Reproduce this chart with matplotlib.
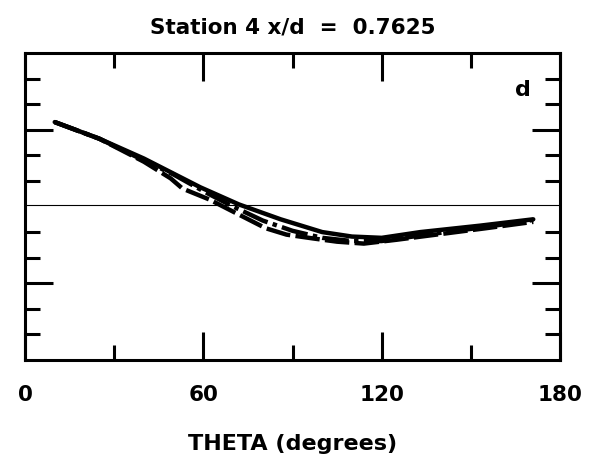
import numpy as np
import matplotlib
matplotlib.use("Agg")
import matplotlib.pyplot as plt
from matplotlib.ticker import FixedLocator

theta_solid = [10, 25, 40, 59, 72, 86, 100, 110, 120, 133, 153, 171]
val_solid = [0.66, 0.53, 0.375, 0.15, 0.016, -0.10, -0.20, -0.235, -0.245, -0.20, -0.15, -0.10]

theta_dash = [10, 25, 40, 49, 53, 62, 70, 81, 88, 97, 105, 114, 125, 140, 155, 171]
val_dash = [0.66, 0.53, 0.35, 0.22, 0.14, 0.055, -0.04, -0.17, -0.22, -0.25, -0.275, -0.29, -0.26, -0.215, -0.17, -0.12]

theta_dashdot = [10, 25, 40, 50, 60, 70, 80, 90, 100, 110, 120, 135, 155, 171]
val_dashdot = [0.66, 0.53, 0.36, 0.25, 0.12, 0.0, -0.11, -0.19, -0.245, -0.27, -0.27, -0.22, -0.16, -0.105]

plt.rcParams["font.family"] = ["DejaVu Sans"]
plt.rcParams["font.weight"] = "bold"

fig = plt.figure(figsize=(5.92, 4.61), dpi=100)
ax = fig.add_axes([25 / 592, 1 - 360 / 461, 535 / 592, 307 / 461])

ax.axhline(0.01, color="black", lw=0.8)
ax.plot(theta_solid, val_solid, color="black", lw=3.2, solid_capstyle="round")
ax.plot(theta_dash, val_dash, color="black", lw=3.2, dashes=(5.5, 1.2))
ax.plot(theta_dashdot, val_dashdot, color="black", lw=3.2, dashes=(6, 1.2, 1, 1.2))

ax.set_xlim(0, 180)
ax.set_ylim(-1.2, 1.2)

ax.xaxis.set_major_locator(FixedLocator([0, 60, 120, 180]))
ax.xaxis.set_minor_locator(FixedLocator([30, 90, 150]))
ax.yaxis.set_major_locator(FixedLocator([-0.6, 0.6]))
ax.yaxis.set_minor_locator(FixedLocator([-1.0, -0.8, -0.4, -0.2, 0.2, 0.4, 0.8, 1.0]))

ax.tick_params(which="both", direction="in", top=True, right=True, width=2.2)
ax.tick_params(which="major", length=20)
ax.tick_params(which="minor", length=11)
ax.tick_params(axis="x", which="major", labelsize=15.5, pad=18)
ax.tick_params(axis="y", which="both", labelleft=False)
for lab in ax.get_xticklabels():
    lab.set_fontweight("bold")

for sp in ax.spines.values():
    sp.set_linewidth(2.2)

ax.set_title("Station 4 x/d  =  0.7625", fontsize=15.5, fontweight="bold", pad=14)
ax.set_xlabel("THETA (degrees)", fontsize=16, fontweight="bold", labelpad=21)
ax.text(0.93, 0.88, "d", transform=ax.transAxes, fontsize=16, fontweight="bold",
        ha="center", va="center")

fig.savefig("out.png", dpi=100)
